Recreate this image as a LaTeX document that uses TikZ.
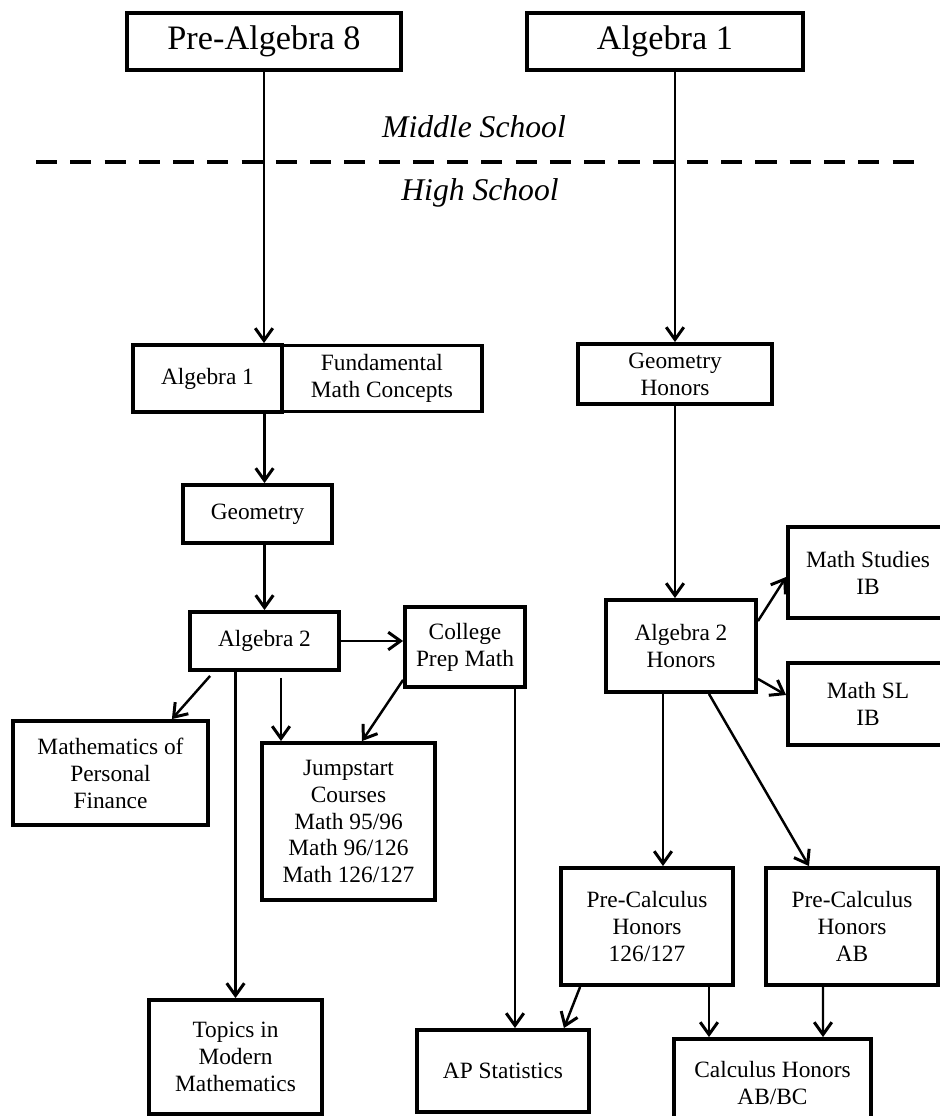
\documentclass[tikz,border=0pt]{standalone}
\usepackage{fontspec}
\setmainfont{Liberation Serif}
\usepackage{tikz}
\usetikzlibrary{positioning,calc,arrows.meta}

\tikzset{
    course/.style={draw, line width=2.2pt, align=center, inner sep=2pt, fill=white,
        font=\fontsize{13.3}{15.3}\selectfont},
    topcourse/.style={course, line width=2.6pt, font=\fontsize{19.5}{22}\selectfont},
    level/.style={font=\fontsize{18}{21}\selectfont\itshape},
    link/.style={line width=1.4pt, -{Straight Barb[length=7pt,width=10pt,line width=1.7pt]}}
}

\begin{document}
\begin{tikzpicture}[x=0.02cm, y=-0.02cm]
    % Page frame
    \useasboundingbox (0,0) rectangle (940,1116);
    \clip (0,0) rectangle (940,1116);
    \fill[white] (0,0) rectangle (940,1116);

    % Middle school courses
    \node[topcourse, minimum width=5.48cm, minimum height=1.14cm] (prealg) at (264,41.5) {Pre-Algebra 8};
    \node[topcourse, minimum width=5.52cm, minimum height=1.14cm] (algtop) at (665,41.5) {Algebra 1};

    % Middle / high school divide
    \node[level] (middle) at (474,127) {Middle School};
    \draw[line width=2.8pt, dash pattern=on 12pt off 7.5pt] (36,162) -- (918,162);
    \node[level] (high) at (480,193) {High School};

    % Standard track
    \node[course, minimum width=2.98cm, minimum height=1.34cm] (alg1) at (207.5,378.5) {Algebra 1};
    \node[course, minimum width=4.0cm, minimum height=1.32cm, anchor=west, xshift=-2.2pt] (fund) at (alg1.east) {Fundamental\\Math Concepts};
    \node[course, minimum width=2.98cm, minimum height=1.16cm] (geom) at (257.5,514) {Geometry};
    \node[course, minimum width=2.98cm, minimum height=1.16cm] (alg2) at (264.5,641) {Algebra 2};
    \node[course, minimum width=2.4cm, minimum height=1.6cm] (prep) at (465,647) {College\\Prep Math};
    \node[course, minimum width=3.9cm, minimum height=2.08cm] (mpf) at (110.5,773) {Mathematics of\\Personal\\Finance};
    \node[course, minimum width=3.46cm, minimum height=3.14cm] (jump) at (348.5,821.5) {Jumpstart\\Courses\\Math 95/96\\Math 96/126\\Math 126/127};
    \node[course, minimum width=3.46cm, minimum height=2.28cm] (topics) at (235.5,1057) {Topics in\\Modern\\Mathematics};

    % Honors track
    \node[course, minimum width=3.88cm, minimum height=1.2cm] (geomh) at (675,374) {Geometry\\Honors};
    \node[course, minimum width=3.0cm, minimum height=1.84cm] (alg2h) at (681,646) {Algebra 2\\Honors};
    \node[course, minimum width=3.2cm, minimum height=1.82cm] (studies) at (868,572.5) {Math Studies\\IB};
    \node[course, minimum width=3.2cm, minimum height=1.64cm] (sl) at (868,704) {Math SL\\IB};
    \node[course, minimum width=3.44cm, minimum height=2.34cm] (pc126) at (647,926.5) {Pre-Calculus\\Honors\\126/127};
    \node[course, minimum width=3.44cm, minimum height=2.34cm] (pcab) at (852,926.5) {Pre-Calculus\\Honors\\AB};
    \node[course, minimum width=3.44cm, minimum height=1.64cm] (apstat) at (503,1071) {AP Statistics};
    \node[course, minimum width=3.94cm, minimum height=1.76cm] (calc) at (772.5,1083) {Calculus Honors\\AB/BC};

    % Free ends just below the boxes
    \coordinate (jumpstart) at ($(alg2.south)+(16.5,6)$);
    \coordinate (statsdrop) at ($(prep.south)+(50,0)$);

    % Connectors, standard track
    \draw[link] (prealg.south) -- (prealg.south |- alg1.north);
    \draw[link] (alg1.south -| alg2.north) -- (geom.north -| alg2.north);
    \draw[link] (geom.south -| alg2.north) -- (alg2.north);
    \draw[link] (alg2.east) -- (alg2.east -| prep.west);
    \draw[link] ($(alg2.south west)+(22,4)$) -- ($(mpf.north east)+(-38,0)$);
    \draw[link] (topics.north |- alg2.south) -- (topics.north);
    \draw[link] (jumpstart) -- (jumpstart |- jump.north);
    \draw[link] ($(prep.south west)+(0,-9)$) -- ($(jump.north)+(13.5,0)$);
    \draw[link] (statsdrop) -- (statsdrop |- apstat.north);

    % Connectors, honors track
    \draw[link] (geomh.north |- algtop.south) -- (geomh.north);
    \draw[link] (geomh.south) -- (geomh.south |- alg2h.north);
    \draw[link] ($(alg2h.north east)+(0,23)$) -- ($(studies.west)+(0,4.5)$);
    \draw[link] ($(alg2h.south east)+(0,-15)$) -- ($(sl.west)+(0,-9)$);
    \draw[link] ($(alg2h.south)+(-18,0)$) -- ($(pc126.north)+(16,0)$);
    \draw[link] ($(alg2h.south)+(28,0)$) -- ($(pcab.north)+(-43,0)$);
    \draw[link] ($(pc126.south west)+(21,0)$) -- ($(apstat.north east)+(-27,0)$);
    \draw[link] ($(pc126.south)+(62,0)$) -- ($(calc.north)+(-63.5,0)$);
    \draw[link] ($(pcab.south)+(-29,0)$) -- ($(calc.north)+(50.5,0)$);
\end{tikzpicture}
\end{document}
